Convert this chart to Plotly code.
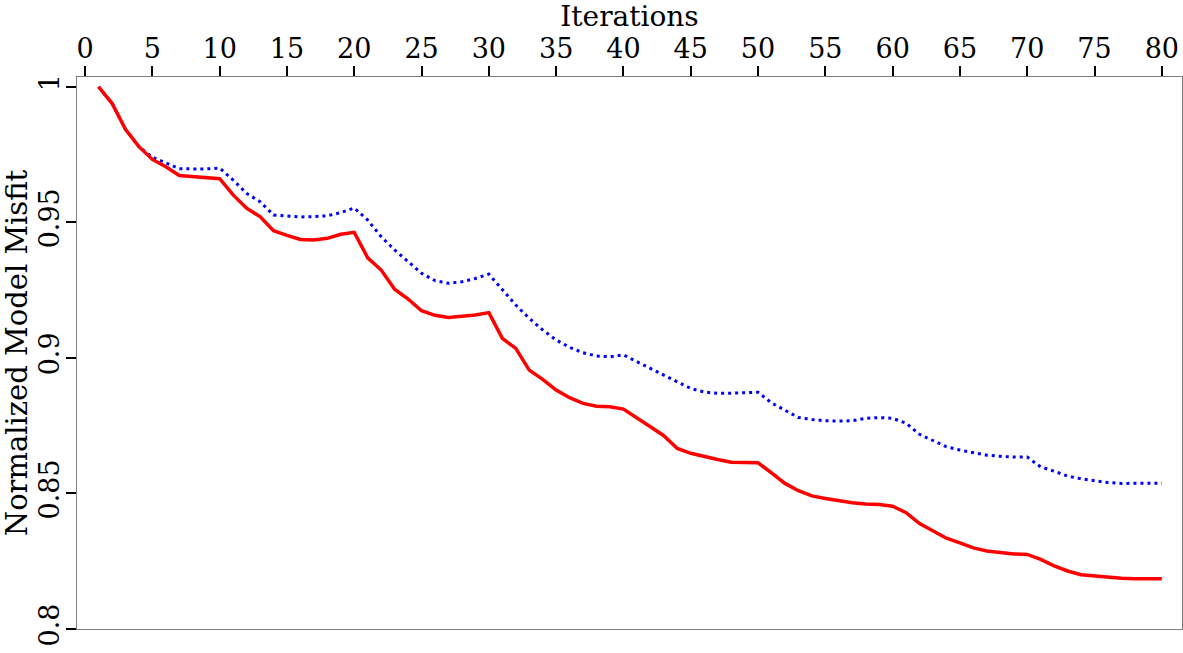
import plotly.graph_objects as go

iterations = list(range(1, 81))

misfit_red = [
    1.0, 0.9939, 0.9843, 0.9779, 0.9732, 0.9705, 0.9673, 0.9668, 0.9663, 0.9661,
    0.9601, 0.9552, 0.9521, 0.9469, 0.9452, 0.9437, 0.9435, 0.9441, 0.9456, 0.9463,
    0.9369, 0.9324, 0.9253, 0.9217, 0.9174, 0.9157, 0.9149, 0.9152, 0.9158, 0.9167,
    0.9072, 0.9035, 0.8955, 0.8921, 0.8881, 0.8853, 0.8832, 0.8822, 0.8820, 0.8811,
    0.8780, 0.8746, 0.8713, 0.8666, 0.8648, 0.8635, 0.8625, 0.8615, 0.8614, 0.8613,
    0.8576, 0.8537, 0.8510, 0.8491, 0.8481, 0.8472, 0.8466, 0.8461, 0.8459, 0.8453,
    0.8429, 0.8389, 0.8362, 0.8335, 0.8318, 0.8299, 0.8288, 0.8281, 0.8277, 0.8275,
    0.8257, 0.8233, 0.8214, 0.8200, 0.8195, 0.8190, 0.8187, 0.8185, 0.8185, 0.8185,
]

misfit_blue = [
    1.0, 0.9939, 0.9843, 0.9779, 0.9740, 0.9718, 0.9698, 0.9697, 0.9697, 0.9700,
    0.9656, 0.9607, 0.9576, 0.9527, 0.9523, 0.9520, 0.9521, 0.9524, 0.9536, 0.9553,
    0.9508, 0.9447, 0.9398, 0.9355, 0.9312, 0.9285, 0.9275, 0.9281, 0.9293, 0.9309,
    0.9252, 0.9195, 0.9146, 0.9103, 0.9066, 0.9039, 0.9019, 0.9007, 0.9004, 0.9011,
    0.8986, 0.8961, 0.8937, 0.8912, 0.8887, 0.8874, 0.8869, 0.8870, 0.8871, 0.8873,
    0.8834, 0.8807, 0.8780, 0.8773, 0.8768, 0.8767, 0.8768, 0.8777, 0.8780, 0.8777,
    0.8759, 0.8718, 0.8694, 0.8672, 0.8660, 0.8650, 0.8641, 0.8637, 0.8634, 0.8634,
    0.8598, 0.8582, 0.8564, 0.8554, 0.8547, 0.8540, 0.8537, 0.8537, 0.8538, 0.8538,
]

x_ticks = [0, 5, 10, 15, 20, 25, 30, 35, 40, 45, 50, 55, 60, 65, 70, 75, 80]
y_ticks = [0.8, 0.85, 0.9, 0.95, 1.0]
y_tick_labels = ["0.8", "0.85", "0.9", "0.95", "1"]

FONT = "DejaVu Serif"

fig = go.Figure()
fig.add_trace(go.Scatter(
    x=iterations, y=misfit_blue, mode="lines",
    line=dict(color="#0000ff", width=3, dash="3px,4px"),
    showlegend=False, hoverinfo="skip",
))
fig.add_trace(go.Scatter(
    x=iterations, y=misfit_red, mode="lines",
    line=dict(color="#ff0000", width=3.5),
    showlegend=False, hoverinfo="skip",
))

fig.update_layout(
    width=1183, height=653,
    margin=dict(l=77, r=1, t=77, b=24),
    paper_bgcolor="white", plot_bgcolor="white",
    font=dict(family=FONT, size=27, color="black"),
    xaxis=dict(
        side="top", range=[-0.6, 81.5], tickvals=x_ticks,
        ticks="outside", ticklen=10, tickwidth=1.5, tickcolor="black",
        showline=True, linecolor="#808080", linewidth=1.2, mirror=True,
        showgrid=False, zeroline=False,
        tickfont=dict(family=FONT, size=27),
        ticklabelstandoff=-3,
        title=dict(text="Iterations", font=dict(family=FONT, size=28), standoff=10),
        automargin=False,
    ),
    yaxis=dict(
        range=[0.8, 1.0036], tickvals=y_ticks, ticktext=y_tick_labels,
        tickangle=-90,
        ticks="outside", ticklen=10, tickwidth=1.5, tickcolor="black",
        showline=True, linecolor="#808080", linewidth=1.2, mirror=True,
        showgrid=False, zeroline=False,
        tickfont=dict(family=FONT, size=27),
        ticklabelstandoff=-4,
        title=dict(text="Normalized Model Misfit", font=dict(family=FONT, size=29), standoff=2),
        automargin=False,
    ),
)

fig.write_html("out.html", config={"displayModeBar": False},
               post_script="document.body.style.margin='0';")
